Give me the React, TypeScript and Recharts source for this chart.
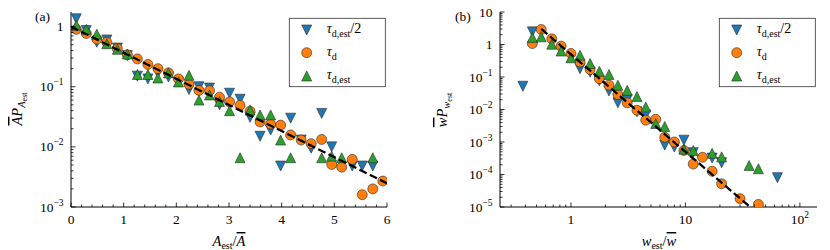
import React from 'react';
import { ScatterChart, Scatter, XAxis, YAxis } from 'recharts';

// (a) amplitude distribution, bins of A_est / mean(A)
const aBins = [0.1, 0.29, 0.49, 0.68, 0.88, 1.07, 1.26, 1.46, 1.65, 1.85, 2.04, 2.24, 2.43, 2.63, 2.82, 3.01, 3.21, 3.4, 3.59, 3.79, 3.98, 4.17, 4.37, 4.56, 4.76, 4.95, 5.14, 5.34, 5.53, 5.73, 5.92];
const aHalf = [1.35, 0.86, 0.55, 0.6, 0.44, 0.33, 0.15, 0.135, 0.17, 0.145, 0.12, 0.09, 0.1, 0.095, 0.05, 0.078, 0.062, 0.031, 0.015, 0.019, 0.0048, 0.03, 0.013, 0.0095, 0.036, 0.01, null, 0.0048, 0.0048, 0.0048, null];
const aTau = [0.9, 0.77, 0.62, 0.55, 0.43, 0.34, 0.29, 0.235, 0.2, 0.17, 0.135, 0.11, 0.087, 0.086, 0.067, 0.056, 0.049, 0.039, 0.026, 0.024, 0.023, 0.0158, 0.013, 0.0113, 0.0133, 0.0051, 0.0046, 0.0062, 0.0016, 0.002, 0.0027];
const aEst = [1.05, 0.9, 0.75, 0.52, 0.42, 0.35, 0.16, 0.16, 0.14, 0.17, 0.12, 0.155, 0.06, 0.073, 0.057, 0.04, 0.0066, 0.041, 0.034, 0.034, 0.013, 0.0066, null, null, 0.0066, 0.007, 0.0066, null, null, 0.0066, null];
const aFitX = [0, 6];
const aFitY = [1, 0.00248];

// (b) waiting time distribution, bins of w_est / mean(w)
const wBins = [0.38, 0.46, 0.55, 0.68, 0.82, 1.0, 1.2, 1.47, 1.77, 2.15, 2.57, 3.1, 3.77, 4.5, 5.5, 6.6, 8.0, 9.7, 11.7, 14.1, 17.1, 20.7, 25, 30, 36, 43.4, 52, 63.6];
const wHalf = [0.052, 2.45, null, null, null, null, 0.18, 0.14, 0.076, 0.037, 0.016, 0.02, 0.0085, 0.0068, null, 0.0008, 0.0007, 0.00114, 0.00047, null, 0.00032, 0.00023, null, null, null, null, null, 8e-5];
const wTau = [null, 1.07, 2.9, 1.5, 0.89, 0.53, 0.29, 0.17, 0.089, 0.056, 0.029, 0.016, 0.0095, 0.0047, 0.005, 0.0014, 0.001, 0.00055, 0.00021, 0.00034, 0.000126, 5.2e-5, null, 1.8e-5, null, 1.2e-5, null, null];
const wEst = [null, 1.65, 1.72, 1.02, 0.63, 0.39, 0.47, 0.26, 0.15, 0.12, 0.056, 0.039, 0.025, 0.012, 0.0037, 0.003, null, 0.0006, 0.00055, null, 0.00045, 0.00035, null, null, 0.00019, 0.00015, null, null];
const wFitX = [0.55, 36.8];
const wFitY = [3.0, 1e-5];

// axis ticks
const aXMajor = [0, 1, 2, 3, 4, 5, 6];
const aYMajor = [0.001, 0.01, 0.1, 1];
const wXMajor = [1, 10, 100];
const wYMajor = [1e-5, 1e-4, 1e-3, 0.01, 0.1, 1, 10];

const BLUE = '#1f77b4';
const ORANGE = '#ff7f0e';
const GREEN = '#2ca02c';
const EDGE = '#2a2a2a';
const FONT = "'Liberation Serif', 'DejaVu Serif', serif";

const pts = (xs: number[], ys: (number | null)[]) =>
    xs.map((x, i) => ({ x, y: ys[i] })).filter(p => p.y != null);

const logMinors = (decades: number[], lo: number, hi: number) =>
    decades.flatMap(d => [2, 3, 4, 5, 6, 7, 8, 9].map(k => d * k)).filter(v => v > lo && v < hi);

const aXTicks = [...aXMajor, ...Array.from({ length: 31 }, (_, i) => Math.round(i * 2) / 10).filter(v => v % 1 !== 0)];
const aYTicks = [...aYMajor, ...logMinors([0.001, 0.01, 0.1, 1], 0.001, 1.75)];
const wXTicks = [...wXMajor, ...logMinors([0.1, 1, 10, 100], 0.24, 141)];
const wYTicks = [...wYMajor, ...logMinors([1e-5, 1e-4, 1e-3, 0.01, 0.1, 1], 1e-5, 10)];

const isMajor = (majors: number[], v: number) => majors.some(m => Math.abs(m - v) <= Math.abs(m) * 1e-9);

const logLabel = (v: number) => {
    const e = Math.round(Math.log10(v));
    if (e === 0) return '1';
    if (e === 1) return '10';
    return <>10<tspan dy={-6} fontSize={9.5}>{e < 0 ? `\u2212${-e}` : e}</tspan></>;
};
const linLabel = (v: number) => String(v);

function makeTick(side: 'bottom' | 'top' | 'left' | 'right', majors: number[], label?: (v: number) => React.ReactNode) {
    return (p: any) => {
        const { x, y, payload } = p;
        const v = payload.value;
        const major = isMajor(majors, v);
        const len = major ? 4.5 : 2.5;
        let x2 = x, y2 = y;
        if (side === 'bottom') y2 = y - len;
        if (side === 'top') y2 = y + len;
        if (side === 'left') x2 = x + len;
        if (side === 'right') x2 = x - len;
        return (
            <g>
                <line x1={x} y1={y} x2={x2} y2={y2} stroke="#000" strokeWidth={0.8} />
                {major && label && side === 'bottom' && (
                    <text x={x} y={y + 17} textAnchor="middle" fontSize={13.5} style={{ fontFamily: FONT }} fill="#000">{label(v)}</text>
                )}
                {major && label && side === 'left' && (
                    <text x={x - 7.5} y={y + 4.5} textAnchor="end" fontSize={13.5} style={{ fontFamily: FONT }} fill="#000">{label(v)}</text>
                )}
            </g>
        );
    };
}

const Down = (p: any) => (
    <polygon points={`${p.cx - 5},${p.cy - 5} ${p.cx + 5},${p.cy - 5} ${p.cx},${p.cy + 5}`} fill={BLUE} stroke={EDGE} strokeWidth={0.6} />
);
const Up = (p: any) => (
    <polygon points={`${p.cx},${p.cy - 5} ${p.cx - 5},${p.cy + 5} ${p.cx + 5},${p.cy + 5}`} fill={GREEN} stroke={EDGE} strokeWidth={0.6} />
);
const Dot = (p: any) => <circle cx={p.cx} cy={p.cy} r={5} fill={ORANGE} stroke={EDGE} strokeWidth={0.6} />;
const Nothing = () => <g />;

const axisLine = { stroke: '#000', strokeWidth: 1 };

interface PanelProps {
    xDomain: [number, number];
    yDomain: [number, number];
    xLog: boolean;
    xTicks: number[];
    yTicks: number[];
    xMajor: number[];
    yMajor: number[];
    xLabel: (v: number) => React.ReactNode;
    leftWidth: number;
    right: number;
    half: { x: number; y: any }[];
    tau: { x: number; y: any }[];
    est: { x: number; y: any }[];
    fit: { x: number; y: any }[];
}

function Panel(pr: PanelProps) {
    const xCommon = {
        type: 'number' as const,
        dataKey: 'x',
        domain: pr.xDomain,
        scale: pr.xLog ? ('log' as const) : ('linear' as const),
        ticks: pr.xTicks,
        interval: 0 as const,
        tickSize: 0,
        tickMargin: 0,
        tickLine: false,
        axisLine,
        allowDataOverflow: true,
    };
    const yCommon = {
        type: 'number' as const,
        dataKey: 'y',
        domain: pr.yDomain,
        scale: 'log' as const,
        ticks: pr.yTicks,
        interval: 0 as const,
        tickSize: 0,
        tickMargin: 0,
        tickLine: false,
        axisLine,
        allowDataOverflow: true,
    };
    return (
        <ScatterChart width={415} height={250} margin={{ top: 12, right: pr.right, bottom: 0, left: 0 }}>
            <XAxis xAxisId="b" {...xCommon} height={43} tick={makeTick('bottom', pr.xMajor, pr.xLabel)} />
            <XAxis xAxisId="t" {...xCommon} orientation="top" height={0} tick={makeTick('top', pr.xMajor)} />
            <YAxis yAxisId="l" {...yCommon} width={pr.leftWidth} tick={makeTick('left', pr.yMajor, logLabel)} />
            <YAxis yAxisId="r" {...yCommon} orientation="right" width={0} tick={makeTick('right', pr.yMajor)} />
            <Scatter xAxisId="b" yAxisId="l" data={pr.half} shape={Down} isAnimationActive={false} />
            <Scatter xAxisId="b" yAxisId="l" data={pr.tau} shape={Dot} isAnimationActive={false} />
            <Scatter xAxisId="b" yAxisId="l" data={pr.est} shape={Up} isAnimationActive={false} />
            <Scatter
                xAxisId="b"
                yAxisId="l"
                data={pr.fit}
                shape={Nothing}
                line={{ stroke: '#000', strokeWidth: 2.3, strokeDasharray: '8 3.5' }}
                isAnimationActive={false}
            />
        </ScatterChart>
    );
}

function LegendBox({ x, y }: { x: number; y: number }) {
    const mx = x + 17.4;
    const tx = x + 37.4;
    const rows = [y + 11.7, y + 34.4, y + 57.7];
    const sub = (s: string) => <tspan fontSize={10} dy={4}>{s}</tspan>;
    return (
        <g style={{ fontFamily: FONT }} fill="#000">
            <rect x={x} y={y} width={96} height={68.4} fill="#fff" stroke="#333" strokeWidth={0.8} />
            <Down cx={mx} cy={rows[0]} />
            <Dot cx={mx} cy={rows[1]} />
            <Up cx={mx} cy={rows[2]} />
            <text x={tx} y={rows[0] + 3} fontSize={14}>
                <tspan fontStyle="italic">τ</tspan>{sub('d,est')}<tspan dy={-4}>/2</tspan>
            </text>
            <text x={tx} y={rows[1] + 3} fontSize={14}>
                <tspan fontStyle="italic">τ</tspan>{sub('d')}
            </text>
            <text x={tx} y={rows[2] + 3} fontSize={14}>
                <tspan fontStyle="italic">τ</tspan>{sub('d,est')}
            </text>
        </g>
    );
}

const over = { textDecoration: 'overline' };

export default function App() {
    return (
        <div style={{ position: 'absolute', left: 0, top: 0, width: 830, height: 250, background: '#fff' }}>
            <div style={{ position: 'absolute', left: 0, top: 0 }}>
                <Panel
                    xDomain={[0, 6]}
                    yDomain={[0.001, 1.75]}
                    xLog={false}
                    xTicks={aXTicks}
                    yTicks={aYTicks}
                    xMajor={aXMajor}
                    yMajor={aYMajor}
                    xLabel={linLabel}
                    leftWidth={71}
                    right={28}
                    half={pts(aBins, aHalf)}
                    tau={pts(aBins, aTau)}
                    est={pts(aBins, aEst)}
                    fit={pts(aFitX, aFitY)}
                />
            </div>
            <div style={{ position: 'absolute', left: 415, top: 0 }}>
                <Panel
                    xDomain={[0.24, 141]}
                    yDomain={[1e-5, 10]}
                    xLog={true}
                    xTicks={wXTicks}
                    yTicks={wYTicks}
                    xMajor={wXMajor}
                    yMajor={wYMajor}
                    xLabel={logLabel}
                    leftWidth={85}
                    right={13}
                    half={pts(wBins, wHalf)}
                    tau={pts(wBins, wTau)}
                    est={pts(wBins, wEst)}
                    fit={pts(wFitX, wFitY)}
                />
            </div>
            <svg width={830} height={250} style={{ position: 'absolute', left: 0, top: 0, pointerEvents: 'none' }}>
                <g style={{ fontFamily: FONT }} fill="#000">
                    <text x={35} y={20.5} fontSize={13.5}>(a)</text>
                    <text x={455} y={20.5} fontSize={13.5}>(b)</text>

                    <text x={229} y={246} fontSize={14.5} textAnchor="middle">
                        <tspan fontStyle="italic">A</tspan>
                        <tspan fontSize={10} dy={3}>est</tspan>
                        <tspan dy={-3}>/</tspan>
                        <tspan fontStyle="italic" style={over}>A</tspan>
                    </text>
                    <text x={659} y={246} fontSize={14.5} textAnchor="middle">
                        <tspan fontStyle="italic">w</tspan>
                        <tspan fontSize={10} dy={3}>est</tspan>
                        <tspan dy={-3}>/</tspan>
                        <tspan fontStyle="italic" style={over}>w</tspan>
                    </text>

                    <text x={22} y={109} fontSize={14.5} textAnchor="middle" transform="rotate(-90 22 109)">
                        <tspan fontStyle="italic" style={over}>A</tspan>
                        <tspan fontStyle="italic">P</tspan>
                        <tspan fontStyle="italic" fontSize={10.5} dy={3}>A</tspan>
                        <tspan fontSize={8} dy={1.5}>est</tspan>
                    </text>
                    <text x={447} y={110} fontSize={14.5} textAnchor="middle" transform="rotate(-90 447 110)">
                        <tspan fontStyle="italic" style={over}>w</tspan>
                        <tspan fontStyle="italic">P</tspan>
                        <tspan fontStyle="italic" fontSize={10.5} dy={3}>w</tspan>
                        <tspan fontSize={8} dy={1.5}>est</tspan>
                    </text>
                </g>
                <LegendBox x={289.3} y={18.3} />
                <LegendBox x={719.3} y={18.3} />
            </svg>
        </div>
    );
}
